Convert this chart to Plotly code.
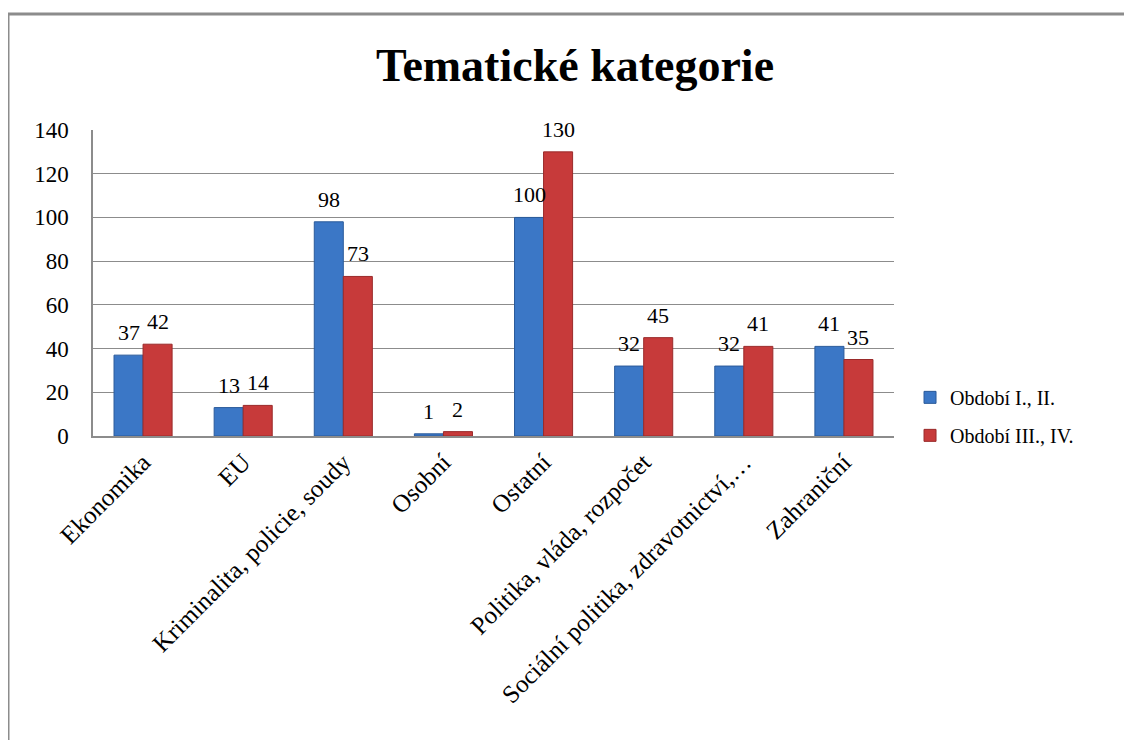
import plotly.graph_objects as go

categories = ["Ekonomika", "EU", "Kriminalita, policie, soudy", "Osobní", "Ostatní",
              "Politika, vláda, rozpočet", "Sociální politika, zdravotnictví,…", "Zahraniční"]
series_names = ["Období I., II.", "Období III., IV."]
values_1 = [37, 13, 98, 1, 100, 32, 32, 41]
values_2 = [42, 14, 73, 2, 130, 45, 41, 35]
y_ticks = [0, 20, 40, 60, 80, 100, 120, 140]

FONT = "Liberation Serif"
colors = ["#3b77c6", "#c73a3a"]
lines = ["#2a5a9a", "#9a2a2a"]

fig = go.Figure()
for name, vals, col, lc, grp in zip(series_names, [values_1, values_2], colors, lines, ["a", "b"]):
    fig.add_trace(go.Bar(
        x=categories, y=vals, name=name, legendgroup=grp,
        marker=dict(color=col, line=dict(color=lc, width=1)),
        cliponaxis=False,
    ))

# data labels placed on the category axis, shifted to each bar of the group
for vals, dx in zip([values_1, values_2], [-14.5, 14.5]):
    for c, v in zip(categories, vals):
        fig.add_annotation(x=c, y=v, xref="x", yref="y", text=str(v), showarrow=False,
                           xshift=dx, yshift=8, yanchor="bottom", xanchor="center",
                           font=dict(family=FONT, size=22, color="black"))

# page body has an 8px margin; margins below compensate so the plot area sits where the reference has it
fig.update_layout(
    width=1132, height=740,
    paper_bgcolor="white", plot_bgcolor="white",
    margin=dict(l=85, r=246, t=122, b=312),
    barmode="group", bargap=0.42, bargroupgap=0,
    title=dict(text="<b>Tematické kategorie</b>", x=567 / 1132, xref="container", xanchor="center",
               y=1 - 57 / 740, yref="container", yanchor="middle",
               font=dict(family=FONT, size=46, color="black")),
    legend=dict(x=1.02, y=0.19, xanchor="left", yanchor="top",
                font=dict(family=FONT, size=20, color="black"),
                tracegroupgap=9, traceorder="grouped", bgcolor="rgba(0,0,0,0)"),
    xaxis=dict(showline=True, linecolor="#8c8c8c", linewidth=1.5, tickangle=-45,
               tickfont=dict(family=FONT, size=25, color="black"), showgrid=False),
    yaxis=dict(range=[0, 140], tickvals=y_ticks, showline=True, linecolor="#8c8c8c", linewidth=1.5,
               gridcolor="#8c8c8c", gridwidth=1, zeroline=False,
               tickfont=dict(family=FONT, size=23, color="black"), ticklabelstandoff=18),
)

# outer frame (left and top edges visible)
fx = (8 - 93) / (894 - 93)
fy = (436 - 14) / (436 - 130)
fig.add_shape(type="line", xref="paper", yref="paper", x0=fx, x1=1.5, y0=fy, y1=fy,
              line=dict(color="#8c8c8c", width=3))
fig.add_shape(type="line", xref="paper", yref="paper", x0=fx, x1=fx, y0=fy, y1=-1.5,
              line=dict(color="#8c8c8c", width=3))

fig.write_html("out.html")
